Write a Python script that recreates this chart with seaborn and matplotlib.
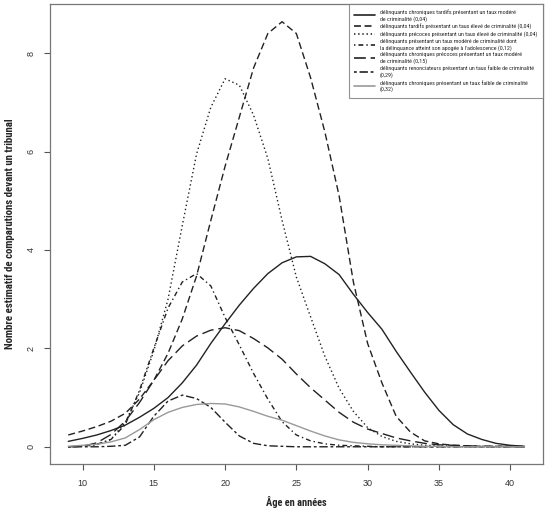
import numpy as np
import pandas as pd
import matplotlib
matplotlib.use('Agg')
import matplotlib.pyplot as plt
from matplotlib.lines import Line2D
import seaborn as sns

sns.set_theme(style='white')
plt.rcParams['font.family'] = ['Liberation Sans', 'DejaVu Sans']
plt.rcParams['lines.scale_dashes'] = False
cond = ['Roboto Condensed', 'Archivo Narrow', 'Barlow Semi Condensed', 'DejaVu Sans']

# âges (années)
ages = list(range(9, 42))

# nombre estimatif de comparutions par trajectoire
chron_tardifs_mod = [0.11, 0.17, 0.24, 0.33, 0.44, 0.60, 0.78, 1.00, 1.30, 1.66, 2.10, 2.50, 2.88,
                     3.22, 3.52, 3.74, 3.86, 3.87, 3.72, 3.50, 3.10, 2.73, 2.39, 1.94, 1.52, 1.11,
                     0.74, 0.45, 0.26, 0.15, 0.07, 0.03, 0.01]
tardifs_eleve = [0.24, 0.32, 0.41, 0.52, 0.68, 0.97, 1.35, 1.90, 2.60, 3.47, 4.60, 5.70, 6.70,
                 7.70, 8.40, 8.64, 8.40, 7.50, 6.40, 5.10, 3.35, 2.10, 1.30, 0.62, 0.30, 0.12,
                 0.06, 0.03, 0.02, 0.01, 0.01, 0.01, 0.01]
precoces_eleve = [0.00, 0.01, 0.04, 0.15, 0.50, 1.10, 1.95, 3.00, 4.50, 5.95, 6.90, 7.48, 7.35,
                  6.74, 5.86, 4.60, 3.45, 2.64, 1.84, 1.19, 0.72, 0.39, 0.21, 0.11, 0.06, 0.03,
                  0.02, 0.01, 0.01, 0.00, 0.00, 0.00, 0.00]
apogee_ado = [0.00, 0.01, 0.05, 0.15, 0.45, 1.15, 2.00, 2.82, 3.35, 3.52, 3.27, 2.63, 2.07,
              1.49, 0.97, 0.51, 0.24, 0.12, 0.06, 0.03, 0.02, 0.01, 0.00, 0.00, 0.00, 0.00,
              0.00, 0.00, 0.00, 0.00, 0.00, 0.00, 0.00]
chron_precoces_mod = [0.00, 0.01, 0.08, 0.25, 0.52, 0.90, 1.35, 1.75, 2.05, 2.25, 2.37, 2.42, 2.36,
                      2.20, 2.01, 1.78, 1.48, 1.20, 0.95, 0.70, 0.50, 0.36, 0.27, 0.18, 0.12, 0.07,
                      0.04, 0.03, 0.02, 0.01, 0.01, 0.01, 0.00]
renonciateurs = [0.00, 0.00, 0.00, 0.01, 0.03, 0.20, 0.62, 0.93, 1.05, 0.98, 0.80, 0.50, 0.22,
                 0.07, 0.02, 0.01, 0.00, 0.00, 0.00, 0.00, 0.00, 0.00, 0.00, 0.00, 0.00, 0.00,
                 0.00, 0.00, 0.00, 0.00, 0.00, 0.00, 0.00]
chron_faible = [0.01, 0.03, 0.05, 0.10, 0.18, 0.35, 0.55, 0.70, 0.80, 0.86, 0.88, 0.87, 0.81,
                0.72, 0.62, 0.54, 0.43, 0.32, 0.22, 0.14, 0.09, 0.06, 0.04, 0.03, 0.02, 0.01,
                0.01, 0.00, 0.00, 0.00, 0.00, 0.00, 0.00]

labels = [
    "délinquants chroniques tardifs présentant un taux modéré\nde criminalité (0,04)",
    "délinquants tardifs présentant un taux élevé de criminalité (0,04)",
    "délinquants précoces présentant un taux élevé de criminalité (0,04)",
    "délinquants présentant un taux modéré de criminalité dont\nla délinquance atteint son apogée à l'adolescence (0,12)",
    "délinquants chroniques précoces présentant un taux modéré\nde criminalité (0,15)",
    "délinquants renonciateurs présentant un taux faible de criminalité\n(0,29)",
    "délinquants chroniques présentant un taux faible de criminalité\n(0,32)",
]
series = [chron_tardifs_mod, tardifs_eleve, precoces_eleve, apogee_ado,
          chron_precoces_mod, renonciateurs, chron_faible]

# styles de ligne (façon R : solid, dashed, dotted, dotdash, longdash, twodash)
dash_styles = ["", (5, 2.6), (1, 2), (1, 2.2, 3.5, 2.2), (8.5, 3.5), (2, 2, 6, 2), ""]
couleurs = ['#222222', '#222222', '#222222', '#222222', '#222222', '#222222', '#999999']
lw = 1.0

rows = []
for lab, vals in zip(labels, series):
    for a, v in zip(ages, vals):
        rows.append({'age': a, 'n': v, 'groupe': lab})
df = pd.DataFrame(rows)

fig = plt.figure(figsize=(5.5, 5.11), dpi=100)
ax = fig.add_axes([50 / 550, 1 - 464 / 511, 492.7 / 550, 460 / 511])

sns.lineplot(data=df, x='age', y='n', hue='groupe', style='groupe',
             hue_order=labels, style_order=labels,
             palette=dict(zip(labels, couleurs)), dashes=dict(zip(labels, dash_styles)),
             linewidth=lw, legend=False, errorbar=None, ax=ax)

ax.set_xlim(7.72, 42.28)
ax.set_ylim(-0.35, 9.0)
ax.set_xticks([10, 15, 20, 25, 30, 35, 40])
ax.set_yticks([0, 2, 4, 6, 8])
for lbl in ax.get_yticklabels():
    lbl.set_rotation(90)
    lbl.set_va('center')
ax.tick_params(axis='both', direction='out', length=4, width=0.8, color='#555555',
               labelsize=6.5, labelcolor='#333333', bottom=True, left=True)
ax.tick_params(axis='x', pad=7)
ax.tick_params(axis='y', pad=6.5)
for sp in ax.spines.values():
    sp.set_color('#777777')
    sp.set_linewidth(0.9)

ax.set_xlabel('Âge en années', fontsize=7.5, fontweight='bold', family=cond)
ax.set_ylabel('Nombre estimatif de comparutions devant un tribunal', fontsize=7.8,
              fontweight='bold', family=cond)
ax.xaxis.set_label_coords(0.5, (464 - 502) / 460)
ax.xaxis.label.set_va('center')
ax.yaxis.set_label_coords((10 - 50) / 492.7, 0.5)
ax.yaxis.label.set_va('center')

handles = []
for d, c in zip(dash_styles, couleurs):
    if d == "":
        handles.append(Line2D([0], [0], color=c, linewidth=lw + 0.2))
    else:
        handles.append(Line2D([0], [0], color=c, linewidth=lw + 0.2, linestyle=(0, d)))
leg = ax.legend(handles, labels, loc='upper right', bbox_to_anchor=(1.0, 1.0),
                prop={'family': cond, 'size': 4.3}, frameon=True, fancybox=False,
                borderpad=0.9, labelspacing=0.3, handlelength=3.4, handletextpad=0.9,
                borderaxespad=0)
leg.get_frame().set_edgecolor('#777777')
leg.get_frame().set_linewidth(0.8)

fig.savefig('out.png', dpi=100)
